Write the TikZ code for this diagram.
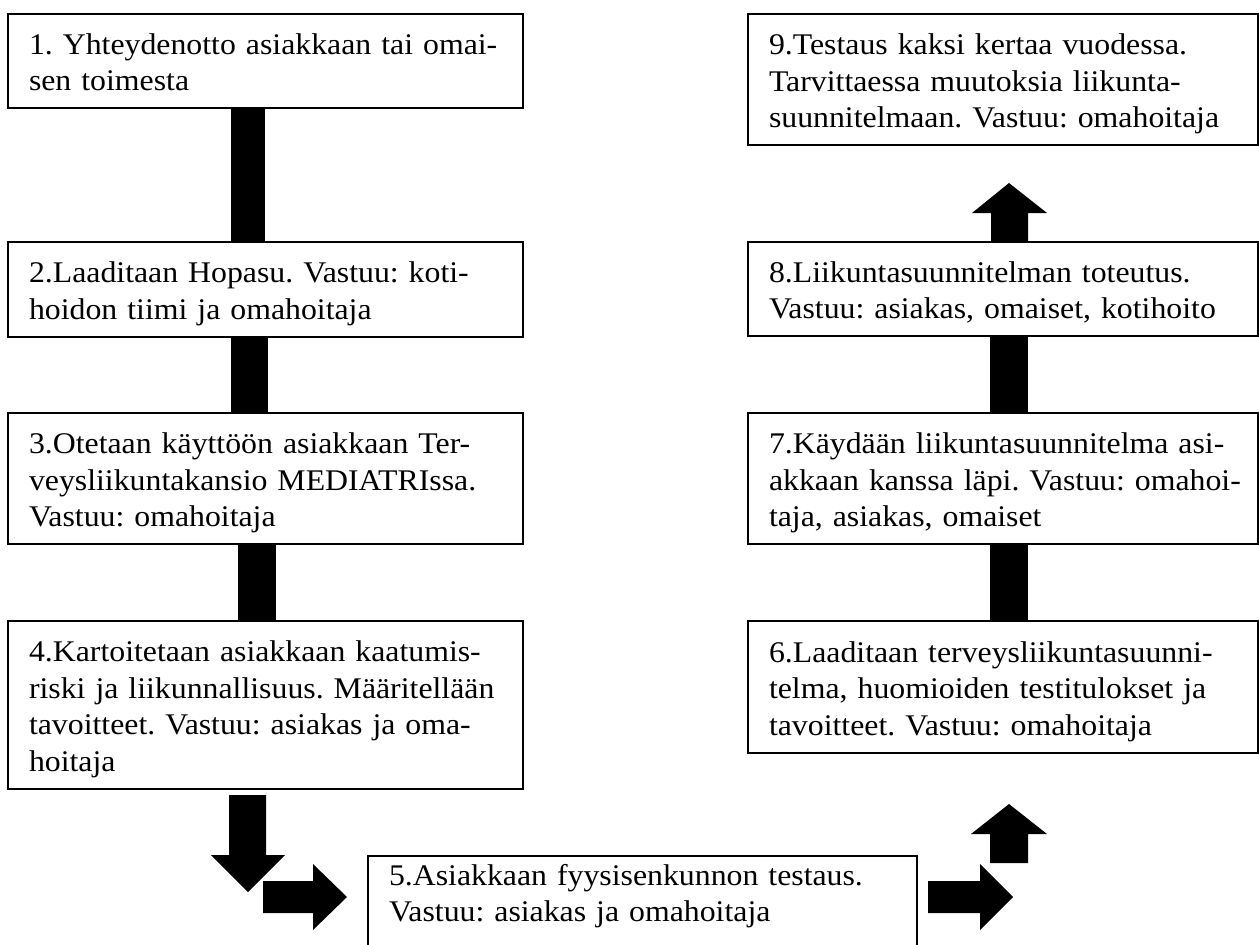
\documentclass[tikz,border=0pt]{standalone}
\usepackage{fontspec}
\setmainfont[FakeStretch=1.06]{Liberation Serif}
\usetikzlibrary{calc}
\newcommand\hs{\rule{0pt}{31pt}}
\newcommand\ds{\rule[-8pt]{0pt}{8pt}}
\newcommand\ml[1]{\mbox{#1}}
\tikzset{
  stepbox/.style={draw=black, line width=2pt, anchor=north west, inner xsep=21pt, inner ysep=0pt,
    align=left, font=\fontsize{30}{36.5}\selectfont\frenchspacing, text=black},
  leftbox/.style={stepbox, text width=473pt, minimum width=515pt},
  rightbox/.style={stepbox, text width=468pt, minimum width=510pt},
  bar/.style={fill=black},
}
\begin{document}
\begin{tikzpicture}[x=1pt,y=-1pt]
\useasboundingbox (0,0) rectangle (1259,945);
% left column
\node[leftbox, minimum height=94pt] (b1) at (7,13) {\hs\ml{1. Yhteydenotto asiakkaan tai omai-}\\\ml{sen toimesta}\ds};
\node[leftbox, minimum height=95pt] (b2) at (7,241) {\hs\ml{2.Laaditaan Hopasu. Vastuu: koti-}\\\ml{hoidon tiimi ja omahoitaja}\ds};
\node[leftbox, minimum height=131pt] (b3) at (7,412) {\hs\ml{3.Otetaan käyttöön asiakkaan Ter-}\\\ml{veysliikuntakansio MEDIATRIssa.}\\\ml{Vastuu: omahoitaja}\ds};
\node[leftbox, minimum height=168pt] (b4) at (7,620) {\hs\ml{4.Kartoitetaan asiakkaan kaatumis-}\\\ml{riski ja liikunnallisuus. Määritellään}\\\ml{tavoitteet. Vastuu: asiakas ja oma-}\\\ml{hoitaja}\ds};
% bottom
\node[stepbox, text width=507pt, minimum width=549pt, minimum height=100pt] (b5) at (367,855) {\rule{0pt}{28pt}\ml{5.Asiakkaan fyysisenkunnon testaus.}\\\ml{Vastuu: asiakas ja omahoitaja}\rule[-33pt]{0pt}{33pt}};
% right column
\node[rightbox, minimum height=132pt] (b6) at (747,620) {\hs\ml{6.Laaditaan terveysliikuntasuunni-}\\\ml{telma, huomioiden testitulokset ja}\\\ml{tavoitteet. Vastuu: omahoitaja}\ds};
\node[rightbox, minimum height=131pt] (b7) at (747,412) {\hs\ml{7.Käydään liikuntasuunnitelma asi-}\\\ml{akkaan kanssa läpi. Vastuu: omahoi-}\\\ml{taja, asiakas, omaiset}\ds};
\node[rightbox, minimum height=94pt] (b8) at (747,241) {\hs\ml{8.Liikuntasuunnitelman toteutus.}\\\ml{Vastuu: asiakas, omaiset, kotihoito}\ds};
\node[rightbox, minimum height=131pt] (b9) at (747,13) {\hs\ml{9.Testaus kaksi kertaa vuodessa.}\\\ml{Tarvittaessa muutoksia liikunta-}\\\ml{suunnitelmaan. Vastuu: omahoitaja}\ds};
% connector bars
\fill[bar] ($(b1.south west)+(224,0)$) rectangle ($(b2.north west)+(258,0)$);
\fill[bar] ($(b2.south west)+(224,0)$) rectangle ($(b3.north west)+(261,0)$);
\fill[bar] ($(b3.south west)+(231,0)$) rectangle ($(b4.north west)+(269,0)$);
\fill[bar] ($(b6.north west)+(243,0)$) rectangle ($(b7.south west)+(281,0)$);
\fill[bar] ($(b7.north west)+(243,0)$) rectangle ($(b8.south west)+(281,0)$);
% arrow 8 -> 9
\fill[bar] ($(b8.north west)+(244,0)$) -- ++(0,-28) -- ++(-19,0) -- ++(37,-30) -- ++(38,30) -- ++(-19,0) -- ++(0,28) -- cycle;
% down arrow below 4
\fill[bar] ($(b4.south west)+(222,5)$) -- ++(0,60) -- ++(-18,0) -- ++(37,37) -- ++(37,-37) -- ++(-19,0) -- ++(0,-60) -- cycle;
% right arrow into 5
\fill[bar] ($(b5.north west)+(-104,26)$) -- ++(50,0) -- ++(0,-17) -- ++(34,33) -- ++(-34,33) -- ++(0,-17) -- ++(-50,0) -- cycle;
% right arrow out of 5
\fill[bar] ($(b5.north east)+(10,26)$) -- ++(52,0) -- ++(0,-17) -- ++(33,33) -- ++(-33,33) -- ++(0,-17) -- ++(-52,0) -- cycle;
% up arrow toward 6
\fill[bar] ($(b6.south west)+(243,109)$) -- ++(0,-29) -- ++(-19,0) -- ++(38,-30) -- ++(38,30) -- ++(-19,0) -- ++(0,29) -- cycle;
\end{tikzpicture}
\end{document}
